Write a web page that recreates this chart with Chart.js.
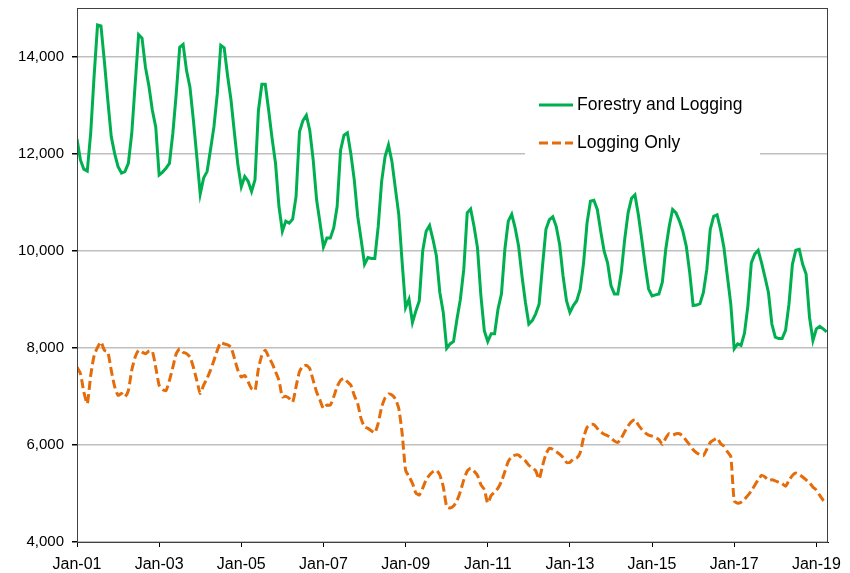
<!DOCTYPE html>
<html>
<head>
<meta charset="utf-8">
<script src="https://cdn.jsdelivr.net/npm/chart.js@4.4.1/dist/chart.umd.min.js"></script>
<style>
  html, body { margin: 0; padding: 0; background: #fff; }
  #wrap { width: 850px; height: 573px; }
</style>
</head>
<body>
<div id="wrap"><canvas id="chart"></canvas></div>
<script>
// Monthly employment, Jan 2001 .. Apr 2019 (month index 0 = Jan-01)
const xTickMonths = [0, 24, 48, 72, 96, 120, 144, 168, 192, 216];
const xTickLabels = ['Jan-01', 'Jan-03', 'Jan-05', 'Jan-07', 'Jan-09', 'Jan-11', 'Jan-13', 'Jan-15', 'Jan-17', 'Jan-19'];
const yTicks = [4000, 6000, 8000, 10000, 12000, 14000];
const seriesNames = ['Forestry and Logging', 'Logging Only'];

const forestryLogging = [
  12300, 11870, 11680, 11640, 12420, 13600, 14650, 14630, 13900, 13100, 12350, 12000,
  11730, 11600, 11630, 11800, 12420, 13440, 14450, 14380, 13780, 13400, 12900, 12550,
  11560, 11620, 11700, 11800, 12420, 13240, 14190, 14250, 13710, 13370, 12690, 11940,
  11170, 11500, 11630, 12080, 12550, 13240, 14230, 14180, 13600, 13100, 12420, 11770,
  11320, 11530, 11430, 11220, 11460, 12890, 13430, 13430, 12890, 12310, 11800, 10910,
  10400, 10610, 10570, 10650, 11120, 12450, 12680, 12790, 12480, 11870, 11050, 10570,
  10080, 10260, 10260, 10470, 10910, 12070, 12380, 12430, 12000, 11460, 10710, 10230,
  9720, 9860, 9840, 9840, 10500, 11430, 11940, 12180, 11840, 11290, 10750, 9750,
  8830, 9000, 8520, 8760, 8970, 10000, 10400, 10520, 10230, 9890, 9140, 8730,
  7990, 8080, 8130, 8590, 9000, 9620, 10780, 10860, 10500, 10060, 9070, 8350,
  8130, 8290, 8290, 8800, 9110, 10030, 10610, 10750, 10470, 10100, 9480, 8940,
  8490, 8560, 8700, 8900, 9690, 10440, 10640, 10700, 10500, 10130, 9480, 8970,
  8730, 8870, 8970, 9210, 9750, 10570, 11020, 11040, 10850, 10400, 9990, 9750,
  9280, 9110, 9110, 9550, 10230, 10780, 11080, 11150, 10740, 10230, 9690, 9210,
  9070, 9090, 9110, 9350, 10030, 10500, 10850, 10780, 10610, 10400, 10090, 9550,
  8870, 8880, 8910, 9140, 9620, 10440, 10710, 10740, 10440, 10060, 9480, 8900,
  7980, 8080, 8050, 8300, 8870, 9750, 9930, 10010, 9750, 9450, 9140, 8490,
  8220, 8190, 8190, 8360, 8900, 9720, 10010, 10030, 9720, 9520, 8630, 8150,
  8390, 8440, 8390, 8330
];

const loggingOnly = [
  7600, 7470, 7090, 6850, 7430, 7840, 8010, 8120, 7950, 7910, 7540, 7200,
  7020, 7060, 6990, 7120, 7540, 7810, 7950, 7910, 7880, 7930, 7930, 7600,
  7230, 7140, 7120, 7330, 7600, 7880, 7980, 7910, 7880, 7810, 7600, 7330,
  7060, 7230, 7370, 7540, 7740, 7950, 8110, 8080, 8060, 8010, 7780, 7540,
  7400, 7430, 7300, 7160, 7120, 7570, 7840, 7950, 7810, 7680, 7510, 7330,
  6990, 7000, 6960, 6880, 7200, 7510, 7620, 7640, 7570, 7330, 7090, 6920,
  6750, 6820, 6820, 6990, 7200, 7330, 7370, 7300, 7230, 7020, 6850, 6540,
  6370, 6340, 6290, 6250, 6450, 6780, 6970, 7050, 7030, 6950, 6750, 6230,
  5480, 5350, 5210, 5010, 4970, 5110, 5280, 5380, 5450, 5480, 5380, 5140,
  4730, 4700, 4740, 4850, 5040, 5280, 5460, 5520, 5460, 5370, 5180, 5080,
  4800, 4960, 5030, 5110, 5250, 5450, 5660, 5760, 5790, 5790, 5720, 5670,
  5580, 5530, 5470, 5300, 5570, 5810, 5930, 5910, 5860, 5810, 5740, 5640,
  5640, 5710, 5730, 5840, 6150, 6360, 6420, 6420, 6340, 6270, 6220, 6190,
  6140, 6080, 6050, 6140, 6270, 6390, 6480, 6520, 6410, 6320, 6250, 6200,
  6180, 6150, 6110, 6010, 6140, 6230, 6200, 6230, 6230, 6180, 6090, 6000,
  5900, 5840, 5800, 5780, 5910, 6050, 6100, 6140, 6030, 5970, 5860, 5760,
  4850, 4800, 4820, 4880, 4960, 5050, 5170, 5280, 5370, 5340, 5270, 5280,
  5260, 5230, 5200, 5150, 5270, 5370, 5420, 5390, 5340, 5280, 5220, 5130,
  5070, 4960, 4860, 4800
];

const green = '#00B050';
const orange = '#E46C0A';
const fontFamily = '"Liberation Sans", Arial, sans-serif';

Chart.defaults.font.family = fontFamily;
Chart.defaults.color = '#000';

// frame round the plot area plus the in-plot key
const frameAndKey = {
  id: 'frameAndKey',
  afterDraw(chart) {
    const { ctx, chartArea: a } = chart;
    ctx.save();
    ctx.strokeStyle = '#404040';
    ctx.lineWidth = 1;
    ctx.strokeRect(a.left + 0.5, a.top + 0.5, a.right - a.left - 1, a.bottom - a.top);

    const bx = a.left + 448, by = a.top + 66;
    ctx.fillStyle = '#fff';
    ctx.fillRect(bx, by, 235, 86);

    ctx.font = '17.5px ' + fontFamily;
    ctx.textBaseline = 'middle';
    chart.data.datasets.forEach((ds, i) => {
      const y = by + 31 + i * 38;
      ctx.strokeStyle = ds.borderColor;
      ctx.lineWidth = ds.borderWidth;
      ctx.setLineDash(ds.borderDash || []);
      ctx.beginPath();
      ctx.moveTo(bx + 14, y);
      ctx.lineTo(bx + 48, y);
      ctx.stroke();
      ctx.setLineDash([]);
      ctx.fillStyle = '#000';
      ctx.fillText(ds.label, bx + 52, y);
    });
    ctx.restore();
  }
};

new Chart(document.getElementById('chart'), {
  type: 'line',
  data: {
    datasets: [
      {
        label: seriesNames[0],
        data: forestryLogging.map((v, i) => ({ x: i, y: v })),
        borderColor: green,
        borderWidth: 3,
        pointRadius: 0,
        tension: 0,
        fill: false,
      },
      {
        label: seriesNames[1],
        data: loggingOnly.map((v, i) => ({ x: i, y: v })),
        borderColor: orange,
        borderWidth: 3,
        borderDash: [9, 4],
        pointRadius: 0,
        tension: 0.2,
        fill: false,
      },
    ],
  },
  options: {
    responsive: true,
    maintainAspectRatio: false,
    animation: false,
    devicePixelRatio: 1,
    layout: { padding: { top: 0, right: 22, left: 0, bottom: 0 } },
    plugins: {
      legend: { display: false },
      tooltip: { enabled: false },
    },
    scales: {
      x: {
        type: 'linear',
        min: 0,
        max: 219.4,
        afterBuildTicks: (s) => { s.ticks = xTickMonths.map((v) => ({ value: v })); },
        afterFit: (s) => { s.height = 31; },
        ticks: {
          autoSkip: false,
          maxRotation: 0,
          padding: 8,
          color: '#000',
          font: { size: 16 },
          callback: (v, i) => xTickLabels[i],
        },
        grid: { drawOnChartArea: false, drawTicks: true, tickLength: 5, tickColor: '#000' },
        border: { color: '#000', width: 1 },
      },
      y: {
        min: 4000,
        max: 15000,
        afterBuildTicks: (s) => { s.ticks = yTicks.map((v) => ({ value: v })); },
        afterFit: (s) => { s.width = 77; s.paddingTop = 8; s.paddingBottom = 0; },
        ticks: {
          padding: 8,
          color: '#000',
          font: { size: 15 },
          callback: (v) => v.toLocaleString('en-US'),
        },
        grid: { color: '#BFBFBF', lineWidth: 1.5, tickLength: 5, tickColor: '#000' },
        border: { color: '#000', width: 1 },
      },
    },
  },
  plugins: [frameAndKey],
});
</script>
</body>
</html>
